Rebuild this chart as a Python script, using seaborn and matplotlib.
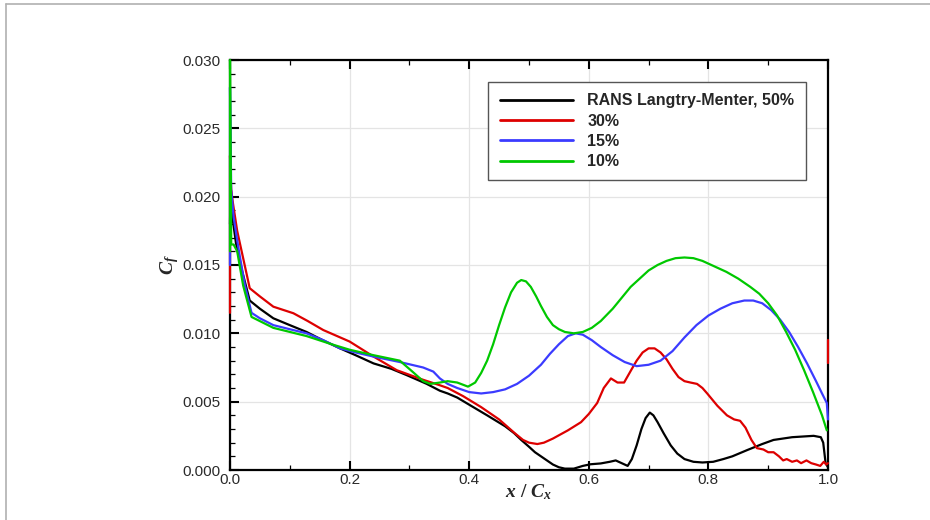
import numpy as np
import pandas as pd
import matplotlib
matplotlib.use("Agg")
import matplotlib.pyplot as plt
from matplotlib.lines import Line2D
from matplotlib.ticker import MultipleLocator
import seaborn as sns

# Skin-friction coefficient along the blade surface for several inlet turbulence levels
labels = ["RANS Langtry-Menter, 50%", "30%", "15%", "10%"]
colors = ["#000000", "#dd0000", "#3b3bff", "#00c800"]

x_50 = [0.0, 0.001, 0.004, 0.01, 0.02, 0.033, 0.05, 0.0725, 0.1, 0.128, 0.155, 0.184,
        0.21, 0.24, 0.27, 0.295, 0.329, 0.351, 0.364, 0.38, 0.403, 0.43, 0.46, 0.475,
        0.487, 0.5, 0.51, 0.52, 0.53, 0.54, 0.55, 0.56, 0.575, 0.59, 0.603, 0.62, 0.635,
        0.645, 0.655, 0.665, 0.672, 0.68, 0.688, 0.695, 0.702, 0.708, 0.715, 0.725, 0.737,
        0.748, 0.76, 0.775, 0.79, 0.808, 0.825, 0.84, 0.865, 0.89, 0.909, 0.94, 0.976,
        0.988, 0.992, 0.996, 1.0]
cf_50 = [0.018, 0.021, 0.0185, 0.0166, 0.0146, 0.0124, 0.0118, 0.0111, 0.0106, 0.0101,
         0.0095, 0.0089, 0.0084, 0.0078, 0.0074, 0.00695, 0.0063, 0.0058, 0.0056, 0.0053,
         0.0047, 0.0040, 0.0032, 0.0027, 0.0022, 0.0017, 0.0013, 0.0010, 0.0007, 0.0004,
         0.0002, 0.0001, 0.0001, 0.0003, 0.00042, 0.00048, 0.0006, 0.0007, 0.0005, 0.0003,
         0.0008, 0.0018, 0.0030, 0.0038, 0.0042, 0.0040, 0.0035, 0.0027, 0.0018, 0.0012,
         0.0008, 0.0006, 0.00055, 0.0006, 0.0008, 0.0010, 0.00146, 0.0019, 0.0022, 0.0024,
         0.0025, 0.0024, 0.0020, 0.0005, 0.0002]

x_30 = [0.0, 0.0, 0.002, 0.005, 0.012, 0.022, 0.033, 0.05, 0.0725, 0.106, 0.13, 0.156,
        0.2, 0.24, 0.279, 0.323, 0.351, 0.364, 0.39, 0.42, 0.45, 0.476, 0.49, 0.5, 0.514,
        0.525, 0.54, 0.565, 0.587, 0.6, 0.614, 0.625, 0.637, 0.648, 0.659, 0.672, 0.68,
        0.69, 0.7, 0.71, 0.72, 0.73, 0.74, 0.75, 0.76, 0.77, 0.781, 0.79, 0.798, 0.815,
        0.831, 0.843, 0.853, 0.862, 0.872, 0.881, 0.892, 0.9, 0.909, 0.918, 0.925, 0.931,
        0.94, 0.948, 0.955, 0.964, 0.972, 0.98, 0.987, 0.993, 0.997, 1.0]
cf_30 = [0.0115, 0.023, 0.0205, 0.0195, 0.0175, 0.0155, 0.0133, 0.0127, 0.01195, 0.01147,
         0.0109, 0.01024, 0.0094, 0.0083, 0.0073, 0.0066, 0.0062, 0.0060, 0.0054, 0.0046,
         0.0037, 0.0027, 0.0022, 0.0020, 0.0019, 0.0020, 0.0023, 0.0029, 0.0035, 0.0041,
         0.0049, 0.0060, 0.0067, 0.0064, 0.0064, 0.0074, 0.0080, 0.0086, 0.0089, 0.0089,
         0.0086, 0.0081, 0.0074, 0.0068, 0.0065, 0.0064, 0.0063, 0.0060, 0.0056, 0.0047,
         0.0040, 0.0037, 0.0036, 0.0031, 0.0022, 0.0016, 0.0015, 0.0013, 0.0013, 0.0010,
         0.0007, 0.0008, 0.0006, 0.0007, 0.0005, 0.0007, 0.0005, 0.0004, 0.0003, 0.0006,
         0.0004, 0.0005]
# short trailing-edge segment of the 30% case
x_30_te = [1.0, 1.0]
cf_30_te = [0.0095, 0.0078]

x_15 = [0.0, 0.0, 0.002, 0.006, 0.015, 0.025, 0.036, 0.05, 0.0725, 0.1, 0.128, 0.156,
        0.184, 0.21, 0.24, 0.284, 0.323, 0.34, 0.351, 0.364, 0.38, 0.4, 0.42, 0.44, 0.46,
        0.48, 0.5, 0.52, 0.535, 0.55, 0.565, 0.578, 0.59, 0.605, 0.62, 0.64, 0.66, 0.68,
        0.7, 0.72, 0.74, 0.76, 0.78, 0.8, 0.82, 0.84, 0.86, 0.875, 0.89, 0.905, 0.92,
        0.935, 0.95, 0.965, 0.98, 0.99, 0.998, 1.0]
cf_15 = [0.015, 0.028, 0.0205, 0.0185, 0.016, 0.0135, 0.0115, 0.0111, 0.0106, 0.0103,
         0.0100, 0.0095, 0.0089, 0.0086, 0.0083, 0.0079, 0.0075, 0.0072, 0.0067, 0.0063,
         0.0060, 0.0057, 0.0056, 0.0057, 0.0059, 0.0063, 0.0069, 0.0077, 0.0085, 0.0092,
         0.0098, 0.0100, 0.0099, 0.0095, 0.0090, 0.0084, 0.0079, 0.0076, 0.0077, 0.0080,
         0.0087, 0.0097, 0.0106, 0.0113, 0.0118, 0.0122, 0.0124, 0.0124, 0.0122, 0.0117,
         0.0110, 0.0101, 0.0090, 0.0078, 0.0065, 0.0056, 0.0049, 0.0037]

x_10 = [0.0, 0.0, 0.002, 0.006, 0.012, 0.022, 0.036, 0.0725, 0.128, 0.17, 0.2, 0.24,
        0.284, 0.305, 0.323, 0.335, 0.351, 0.364, 0.38, 0.398, 0.41, 0.42, 0.43, 0.44,
        0.45, 0.46, 0.47, 0.48, 0.487, 0.495, 0.503, 0.512, 0.52, 0.53, 0.54, 0.55, 0.56,
        0.575, 0.59, 0.605, 0.62, 0.64, 0.655, 0.67, 0.685, 0.7, 0.715, 0.73, 0.745, 0.76,
        0.775, 0.79, 0.81, 0.83, 0.85, 0.87, 0.885, 0.9, 0.915, 0.93, 0.945, 0.96, 0.975,
        0.99, 0.998]
cf_10 = [0.016, 0.030, 0.0165, 0.0165, 0.016, 0.0135, 0.0112, 0.0104, 0.0098, 0.0092,
         0.0088, 0.0084, 0.0080, 0.0072, 0.0065, 0.0063, 0.0064, 0.0065, 0.0064, 0.0061,
         0.0064, 0.0071, 0.0080, 0.0092, 0.0106, 0.0119, 0.0130, 0.0137, 0.0139, 0.0138,
         0.0134, 0.0127, 0.0120, 0.0112, 0.0106, 0.0103, 0.0101, 0.0100, 0.0101, 0.0104,
         0.0109, 0.0118, 0.0126, 0.0134, 0.0140, 0.0146, 0.0150, 0.0153, 0.0155, 0.01555,
         0.0155, 0.0153, 0.0149, 0.0145, 0.0140, 0.0134, 0.0129, 0.0122, 0.0113, 0.0101,
         0.0088, 0.0073, 0.0057, 0.0040, 0.0029]

x_ticks = [0.0, 0.2, 0.4, 0.6, 0.8, 1.0]
y_ticks = [0.000, 0.005, 0.010, 0.015, 0.020, 0.025, 0.030]

segments = [
    (labels[0], "a", x_50, cf_50),
    (labels[1], "a", x_30, cf_30),
    (labels[1], "b", x_30_te, cf_30_te),
    (labels[2], "a", x_15, cf_15),
    (labels[3], "a", x_10, cf_10),
]
frames = []
for lab, part, xs, ys in segments:
    frames.append(pd.DataFrame({"x": xs, "cf": ys, "case": lab, "seg": lab + part}))
df = pd.concat(frames, ignore_index=True)

sns.set_style("white")
plt.rcParams["font.family"] = ["Liberation Sans", "DejaVu Sans"]
plt.rcParams["mathtext.fontset"] = "custom"
plt.rcParams["mathtext.it"] = "Liberation Serif:italic:bold"
plt.rcParams["mathtext.rm"] = "Liberation Serif:bold"

fig = plt.figure(figsize=(9.3, 5.2), dpi=100)
ax = fig.add_axes([230 / 930, 1 - 470 / 520, 598 / 930, 410 / 520])

sns.lineplot(data=df, x="x", y="cf", hue="case", hue_order=labels,
             palette=dict(zip(labels, colors)), sort=False, estimator=None,
             units="seg", linewidth=1.6, ax=ax, legend=False)
# curves sit above the frame so the leading-edge spikes stay visible
for ln in ax.lines:
    ln.set_clip_on(False)
    ln.set_zorder(3)
    ln.set_solid_joinstyle("round")
    ln.set_solid_capstyle("round")

ax.set_xlim(0.0, 1.0)
ax.set_ylim(0.0, 0.030)
ax.set_xticks(x_ticks)
ax.set_xticklabels([f"{v:.1f}" for v in x_ticks])
ax.set_yticks(y_ticks)
ax.set_yticklabels([f"{v:.3f}" for v in y_ticks])
ax.xaxis.set_minor_locator(MultipleLocator(0.1))
ax.yaxis.set_minor_locator(MultipleLocator(0.001))
ax.grid(True, which="major", color="#e4e4e4", linewidth=0.9)
ax.set_axisbelow(True)

ax.tick_params(which="both", direction="in", top=True, right=False,
               bottom=True, left=True, colors="black", labelcolor="#2a2a2a",
               labelsize=11)
ax.tick_params(which="major", length=6.5, width=1.5)
ax.tick_params(which="minor", length=3.6, width=0.9)
ax.tick_params(axis="x", which="major", pad=2)
ax.tick_params(axis="y", which="major", pad=6.5)
for sp in ax.spines.values():
    sp.set_visible(True)
    sp.set_color("black")
    sp.set_linewidth(1.6)

ax.set_xlabel(r"$x\ /\ C_x$", fontsize=14, labelpad=-3)
ax.set_ylabel(r"$C_f$", fontsize=14, labelpad=1)

handles = [Line2D([0], [0], color=c, linewidth=2.0) for c in colors]
leg = ax.legend(handles, labels, loc="upper left", bbox_to_anchor=(0.432, 0.946),
                borderaxespad=0, frameon=True, fancybox=False, framealpha=1,
                handlelength=4.6, handletextpad=0.9, labelspacing=0.33,
                borderpad=0.7, prop={"weight": "bold", "size": 11.5})
leg.get_frame().set_edgecolor("#555555")
leg.get_frame().set_linewidth(1.0)

# thin grey frame along the top and left edge of the canvas
fig.add_artist(Line2D([6 / 930, 6 / 930], [0, 1 - 4 / 520], transform=fig.transFigure,
                      color="#b0b0b0", linewidth=1.2))
fig.add_artist(Line2D([6 / 930, 1], [1 - 4 / 520, 1 - 4 / 520], transform=fig.transFigure,
                      color="#b0b0b0", linewidth=1.2))

fig.savefig("out.png", dpi=100, facecolor="white")
